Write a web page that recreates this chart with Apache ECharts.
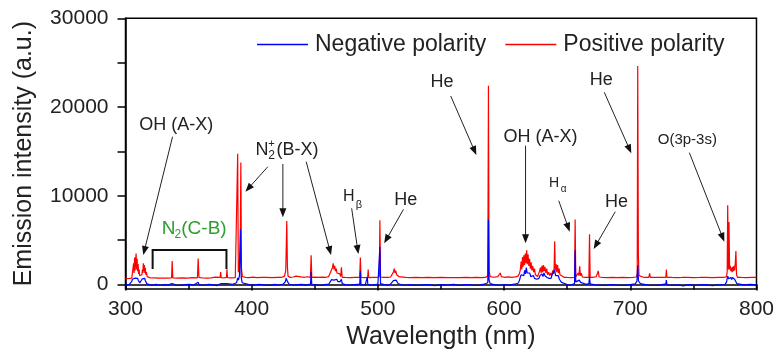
<!DOCTYPE html>
<html><head><meta charset="utf-8">
<script src="https://cdn.jsdelivr.net/npm/echarts@6/dist/echarts.min.js"></script>
<style>html,body{margin:0;padding:0;background:#fff}#c{width:777px;height:356px}</style>
</head><body><div id="c"></div>
<script>
const seriesNames = ['Negative polarity', 'Positive polarity'];
const xTicks = [300, 400, 500, 600, 700, 800];
const yTicks = [0, 10000, 20000, 30000];
const yAllTicks = [0, 5000, 10000, 15000, 20000, 25000, 30000];

// Positive polarity spectrum [wavelength nm, intensity]
const positive = [[300,680],[303,690],[305,720],[306,900],[306.4,2400],[306.8,1300],[307.2,3050],[307.6,1600],[308,2700],[308.4,3500],[308.8,1700],[309.2,2900],[309.6,1500],[310,2300],[310.4,1200],[310.8,1700],[311.2,1000],[311.8,1200],[312.4,900],[313,1100],[313.4,1700],[313.8,1300],[314.1,2400],[314.5,1500],[314.9,2200],[315.3,1300],[315.7,1900],[316.1,1100],[316.6,1400],[317.2,900],[318,800],[320,740],[323,760],[326,720],[330,740],[333,720],[336.5,740],[337,2650],[337.5,740],[341,720],[345,760],[349,720],[353,780],[354,720],[357,760],[357.6,2930],[358.2,800],[361,740],[365,720],[368,760],[371,840],[372,740],[375,800],[375.4,1420],[375.8,780],[378,740],[380,800],[380.4,1720],[380.8,780],[384,760],[387,780],[388.3,1000],[388.9,14750],[389.4,1400],[390.2,2200],[390.9,4000],[391.4,13750],[391.9,1800],[392.6,900],[395,820],[398,780],[401,840],[404,780],[408,800],[412,820],[416,780],[420,800],[424,820],[426,950],[427,1600],[427.4,4300],[427.8,7150],[428.3,2000],[428.8,950],[430.5,800],[433,850],[435,950],[436,820],[439,860],[442,820],[444,880],[446.5,820],[447.1,3300],[447.6,820],[450,840],[453,800],[456,840],[459,820],[461,900],[462,1100],[462.8,1500],[463.5,1300],[464,1900],[464.6,2380],[465.2,1700],[465.8,2100],[466.4,1500],[467,1800],[467.6,1300],[468.3,1500],[469,1100],[469.8,1200],[470.5,900],[471.1,1950],[471.7,820],[474,800],[478,780],[482,800],[485.6,800],[486.1,3050],[486.6,800],[490,780],[491.9,800],[492.3,1700],[492.7,780],[496,800],[499,820],[501.1,850],[501.6,7250],[502.1,850],[504,800],[505,880],[508,800],[510,850],[511.5,1000],[512.3,1400],[513,1800],[513.6,1300],[514.2,1550],[514.9,1100],[515.7,1200],[516.5,900],[518,820],[522,800],[526,780],[530,800],[535,780],[540,820],[545,780],[550,800],[555,780],[560,790],[565,780],[570,800],[574,790],[578,820],[582,780],[585,800],[587.1,950],[587.6,22400],[588.1,1500],[589,900],[592,820],[595,900],[597,1300],[597.8,900],[600,820],[603,860],[606,820],[609,860],[611,950],[612,1200],[612.8,1600],[613.5,2600],[614,1700],[614.6,3100],[615.1,2000],[615.7,3300],[616.2,2200],[616.8,3500],[617.3,2400],[617.9,3870],[618.4,2300],[619,3400],[619.6,2100],[620.2,2900],[620.8,1800],[621.4,2500],[622,1600],[622.7,2100],[623.4,1400],[624.1,1800],[624.8,1100],[625.6,1300],[626.5,900],[627.3,1200],[628.1,1500],[628.8,1900],[629.4,1300],[630,2100],[630.6,1400],[631.2,2200],[631.8,1500],[632.4,2000],[633.1,1300],[633.8,1800],[634.5,1100],[635.3,1400],[636.1,1000],[637,1300],[637.8,1000],[638.6,1600],[639.3,1200],[639.7,2100],[640.1,4880],[640.6,1600],[641.2,2300],[641.8,1400],[642.4,2200],[643,1300],[643.6,1800],[644.3,1100],[645,1300],[645.8,900],[647.5,820],[650,800],[653,790],[655.8,800],[656.3,7330],[656.8,850],[657.8,950],[658.7,1300],[659.3,1000],[659.9,2060],[660.5,1000],[661.2,1300],[662,850],[664,800],[667.2,820],[667.7,5670],[668.2,820],[670,800],[673,880],[674,1100],[674.6,1540],[675.3,850],[678,800],[682,790],[686,800],[690,780],[694,800],[698,790],[702,800],[704.8,850],[705.5,1200],[705.9,24620],[706.4,3440],[706.9,1000],[708,850],[711,800],[714.7,820],[715.3,1250],[715.9,820],[719,800],[723,800],[728.2,820],[728.6,1690],[729,820],[733,800],[737,790],[741,800],[745.5,820],[746,1000],[746.5,800],[750,790],[755,800],[760.3,820],[760.8,900],[761.3,800],[765,790],[770,800],[774,800],[776.3,900],[776.8,1500],[777.2,8940],[777.7,1700],[778.2,7060],[778.7,1700],[779.2,2100],[779.7,1500],[780.2,1900],[780.7,1400],[781.2,2000],[781.7,1500],[782.2,2100],[782.7,1600],[783.2,2400],[783.7,3790],[784.2,1100],[785,820],[788,800],[792,790],[796,800],[800,800]];

// Negative polarity spectrum [wavelength nm, intensity]
const negative = [[300,0],[303,20],[304.5,100],[305,350],[305.5,600],[306,450],[306.5,700],[307,500],[307.5,720],[308,550],[308.5,700],[309,600],[309.6,700],[310.2,450],[310.8,350],[311.4,200],[312.2,150],[312.8,400],[313.3,650],[313.8,500],[314.3,720],[314.8,550],[315.3,700],[315.8,400],[316.4,250],[317,80],[319,0],[322,-60],[324,20],[328,-80],[331,0],[334,-40],[337,120],[337.5,0],[340,-60],[344,-100],[347,0],[351,20],[354,-50],[357.6,250],[358.2,0],[362,-80],[366,20],[370,-40],[372,-120],[375.4,100],[376,0],[380.4,120],[381,0],[385,30],[388,200],[388.9,750],[389.5,500],[390.3,1000],[391.1,6200],[391.7,800],[392.5,200],[394,60],[398,0],[401,-60],[405,10],[410,-30],[414,-100],[418,20],[422,-50],[425,60],[426.6,300],[427.3,700],[427.8,870],[428.5,300],[429.5,60],[433,-80],[436,0],[440,20],[443,-60],[446.6,60],[447.1,1420],[447.6,0],[450,-30],[455,-100],[458,0],[461,40],[462.5,250],[463.3,550],[464,450],[464.6,700],[465.3,500],[466,650],[466.7,450],[467.4,600],[468.2,350],[469,450],[469.8,300],[470.6,450],[471.1,600],[471.7,100],[474,0],[478,-50],[482,0],[485.6,40],[486.1,1530],[486.6,0],[490,-50],[491.2,0],[491.6,860],[492,0],[496,-60],[500,40],[501.1,100],[501.6,4240],[502.1,100],[505,0],[508,-50],[510,40],[511.5,200],[512.3,450],[513,560],[513.7,400],[514.4,500],[515.2,300],[516,120],[518,0],[522,-80],[525,0],[530,-100],[535,-40],[540,0],[545,-120],[550,0],[555,-50],[560,20],[565,-100],[570,0],[575,-60],[580,-100],[584,40],[587.1,200],[587.6,7330],[588.1,500],[589,100],[592,0],[596,-80],[600,0],[604,-60],[608,40],[611,150],[612,400],[612.8,800],[613.5,1100],[614.2,900],[614.9,1300],[615.6,1000],[616.3,1600],[617,1200],[617.6,1920],[618.3,1300],[619,1500],[619.7,1100],[620.4,1300],[621.1,900],[621.8,1100],[622.5,800],[623.3,1000],[624.1,700],[625,900],[625.9,600],[626.8,800],[627.6,700],[628.4,1000],[629.2,800],[630,1200],[630.8,900],[631.6,1300],[632.4,1000],[633.2,1200],[634,800],[634.8,1000],[635.6,700],[636.4,900],[637.2,700],[638,1100],[638.8,900],[639.5,1300],[640.1,1600],[640.8,1000],[641.5,1100],[642.2,800],[643,1000],[643.8,600],[644.6,500],[645.5,250],[647,80],[650,0],[653,-50],[655.8,100],[656.3,3870],[656.8,300],[657.8,200],[659.6,500],[660.6,250],[662,100],[665,30],[667.2,100],[667.7,880],[668.2,80],[671,0],[676,-80],[680,-100],[685,0],[690,-60],[695,-100],[700,0],[704,80],[705.3,400],[705.9,2180],[706.5,400],[708,100],[712,0],[715,-80],[720,-100],[725,0],[728.2,80],[728.6,500],[729,0],[732,-80],[738,-40],[742,-150],[746,0],[750,-100],[755,-40],[760,0],[765,-120],[770,-40],[775,0],[776.3,300],[776.8,700],[777.3,950],[777.9,650],[778.5,850],[779.1,600],[779.7,800],[780.3,550],[780.9,800],[781.5,600],[782.1,850],[782.7,600],[783.3,750],[783.9,400],[784.5,100],[786,0],[790,-40],[795,30],[800,-40]];

// Annotation texts (anchored at [wavelength, intensity])
const plainLabels = [
  {text: 'OH (A-X)', at: [340.3, 18000]},
  {text: 'OH (A-X)', at: [628.9, 16660]},
  {text: 'He', at: [522.0, 9530]},
  {text: 'He', at: [550.9, 22860]},
  {text: 'He', at: [676.9, 23050]},
  {text: 'He', at: [689.1, 9340]},
  {text: 'O(3p-3s)', at: [745.2, 16290], small: true}
];
const arrowLines = [
  [[337.3, 16660], [314.1, 3330]],
  [[412.8, 13280], [395.0, 10460]],
  [[424.7, 13580], [424.7, 7580]],
  [[443.2, 13840], [462.9, 3330]],
  [[479.2, 8590], [484.5, 3440]],
  [[520.3, 8480], [505.0, 4650]],
  [[557.7, 21250], [578.0, 14600]],
  [[617.0, 15650], [617.0, 4650]],
  [[643.3, 9450], [652.0, 5960]],
  [[688.1, 8210], [671.0, 4010]],
  [[679.4, 21660], [700.8, 14790]],
  [[746.8, 14860], [774.5, 4830]]
];
const bracketN2 = [[321.5, 1753], [321.5, 3894], [380.0, 3894], [380.0, 1753]];
const n2plusAt = [428.4, 15160];
const n2cbAt = [354.5, 6260];
const hBetaAt = [477.0, 9900];
const hAlphaAt = [639.6, 11480];

const FONT = '"Liberation Sans", Arial, Helvetica, sans-serif';
const TXT = '#222';
const chart = echarts.init(document.getElementById('c'), null, {renderer: 'canvas'});
chart.setOption({
  animation: false,
  textStyle: {fontFamily: FONT},
  grid: {left: 125.5, right: 18.5, top: 18.3, bottom: 67, show: true, borderColor: '#000', borderWidth: 1.5, backgroundColor: 'transparent'},
  legend: {
    data: seriesNames, top: 28, left: 252, itemWidth: 51, itemHeight: 1.5, itemGap: 19, icon: 'rect',
    textStyle: {fontSize: 23, color: TXT, fontFamily: FONT, padding: [0, 0, 0, 2]}
  },
  xAxis: {
    type: 'value', min: 300, max: 800, interval: 100,
    axisLine: {lineStyle: {color: '#000', width: 1.5}},
    axisTick: {length: 6, lineStyle: {color: '#000', width: 1.5}},
    minorTick: {show: true, splitNumber: 2, length: 5, lineStyle: {color: '#000', width: 1.5}},
    splitLine: {show: false},
    axisLabel: {fontSize: 21, color: TXT, margin: 9.5, customValues: xTicks, formatter: v => String(v)},
    name: 'Wavelength (nm)', nameLocation: 'middle', nameGap: 36,
    nameTextStyle: {fontSize: 25, color: TXT}
  },
  yAxis: {
    type: 'value', min: -500, max: 30000,
    axisLine: {lineStyle: {color: '#000', width: 1.5}},
    axisTick: {length: 8, customValues: yAllTicks, lineStyle: {color: '#000', width: 1.5}},
    splitLine: {show: false},
    axisLabel: {fontSize: 21, color: TXT, margin: 17, customValues: yTicks, formatter: v => String(v)},
    name: 'Emission intensity (a.u.)', nameLocation: 'middle', nameGap: 89, nameRotate: 90,
    nameTextStyle: {fontSize: 25, color: TXT}
  },
  series: [
    {name: 'Positive polarity', type: 'line', data: positive, showSymbol: false, symbol: 'none',
     lineStyle: {color: '#ff0000', width: 1.2}, itemStyle: {color: '#ff0000'}, z: 2},
    {name: 'Negative polarity', type: 'line', data: negative, showSymbol: false, symbol: 'none',
     lineStyle: {color: '#0000ff', width: 1.2}, itemStyle: {color: '#0000ff'}, z: 3}
  ]
});

function px(p) { return chart.convertToPixel({xAxisIndex: 0, yAxisIndex: 0}, p); }
function txt(x, y, text, size, color, align) {
  return {type: 'text', x: x, y: y, z: 20,
    style: {text: text, fontSize: size, fontFamily: FONT, fill: color || TXT,
      align: align || 'center', verticalAlign: 'middle', textAlign: align || 'center', textVerticalAlign: 'middle'}};
}
const els = [];
plainLabels.forEach(l => {
  const p = px(l.at);
  els.push(txt(p[0], p[1], l.text, l.small ? 15 : 18));
});
arrowLines.forEach(a => {
  const s = px(a[0]), e = px(a[1]);
  const dx = e[0] - s[0], dy = e[1] - s[1];
  const len = Math.sqrt(dx * dx + dy * dy), ux = dx / len, uy = dy / len;
  const L = 9, W = 3.5;
  const bx = e[0] - ux * L, by = e[1] - uy * L;
  els.push({type: 'line', z: 20, shape: {x1: s[0], y1: s[1], x2: bx + ux * 2, y2: by + uy * 2},
    style: {stroke: '#222', lineWidth: 1}});
  els.push({type: 'polygon', z: 20, shape: {points: [[e[0], e[1]], [bx - uy * W, by + ux * W], [bx + uy * W, by - ux * W]]},
    style: {fill: '#111'}});
});
const bp = bracketN2.map(px);
els.push({type: 'polyline', z: 20, shape: {points: bp}, style: {stroke: '#111', lineWidth: 2, fill: null}});
// N2+(B-X)
let c = px(n2plusAt);
els.push(txt(c[0] - 32, c[1], 'N', 18, TXT, 'left'));
els.push(txt(c[0] - 16, c[1] - 6, '+', 11));
els.push(txt(c[0] - 16, c[1] + 6, '2', 12));
els.push(txt(c[0] - 11, c[1], '(B-X)', 18, TXT, 'left'));
// N2(C-B)
const GREEN = '#2e9e2e';
c = px(n2cbAt);
els.push(txt(c[0] - 32.5, c[1], 'N', 19, GREEN, 'left'));
els.push(txt(c[0] - 16.5, c[1] + 6, '2', 12, GREEN));
els.push(txt(c[0] - 13, c[1], '(C-B)', 19, GREEN, 'left'));
// H beta
c = px(hBetaAt);
els.push(txt(c[0], c[1], 'H', 16));
els.push(txt(c[0] + 10, c[1] + 8, 'β', 11));
// H alpha
c = px(hAlphaAt);
els.push(txt(c[0], c[1], 'H', 14));
els.push(txt(c[0] + 9.5, c[1] + 7, 'α', 10));
chart.setOption({graphic: els});
</script>
</body></html>
